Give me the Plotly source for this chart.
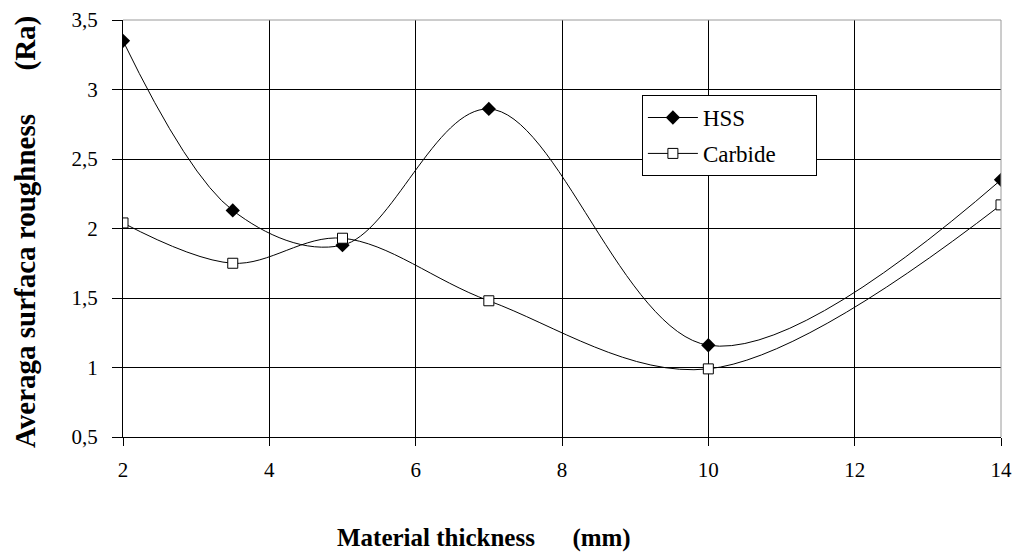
import plotly.graph_objects as go

thickness = [2, 3.5, 5, 7, 10, 14]
hss = [3.35, 2.13, 1.88, 2.86, 1.16, 2.35]
carbide = [2.04, 1.75, 1.93, 1.48, 0.99, 2.17]

x_ticks = [2, 4, 6, 8, 10, 12, 14]
y_ticks = [0.5, 1, 1.5, 2, 2.5, 3, 3.5]
y_tick_text = ["0,5", "1", "1,5", "2", "2,5", "3", "3,5"]

font_family = "Liberation Serif, Times New Roman, serif"
pad = "\u00a0" * 6

fig = go.Figure()
fig.add_trace(go.Scatter(
    x=thickness, y=hss, name="HSS" + pad, mode="lines+markers", legendgroup="a",
    line=dict(color="black", width=1, shape="spline", smoothing=1),
    marker=dict(symbol="diamond", size=11, color="black"),
))
fig.add_trace(go.Scatter(
    x=thickness, y=carbide, name="Carbide" + pad, mode="lines+markers", legendgroup="b",
    line=dict(color="black", width=1, shape="spline", smoothing=1),
    marker=dict(symbol="square", size=10, color="white", line=dict(color="black", width=1)),
))

# plot area spans page x 123..1001, y 20..437
fig.update_layout(
    width=1016, height=556,
    margin=dict(l=123, r=15, t=20, b=119),
    paper_bgcolor="white", plot_bgcolor="white",
    font=dict(family=font_family, color="black", size=21),
    showlegend=True,
    legend=dict(
        x=0.591, y=0.82, xanchor="left", yanchor="top",
        bgcolor="white", bordercolor="black", borderwidth=1,
        font=dict(family=font_family, size=23, color="black"),
        traceorder="grouped", tracegroupgap=3, itemwidth=50,
    ),
    xaxis=dict(
        range=[2, 14], tickvals=x_ticks, ticktext=[str(v) for v in x_ticks],
        showgrid=True, gridcolor="black", gridwidth=1,
        showline=True, linecolor="black", linewidth=1,
        ticks="outside", ticklen=8, tickcolor="black", ticklabelstandoff=6,
        zeroline=False, automargin=False,
    ),
    yaxis=dict(
        range=[0.5, 3.5], tickvals=y_ticks, ticktext=y_tick_text,
        showgrid=True, gridcolor="black", gridwidth=1,
        showline=True, linecolor="black", linewidth=1,
        ticks="outside", ticklen=10, tickcolor="black", ticklabelstandoff=10,
        zeroline=False, automargin=False,
    ),
    shapes=[
        dict(type="line", xref="paper", yref="paper", x0=0, x1=1, y0=1, y1=1,
             line=dict(color="#9a9a9a", width=1), layer="above"),
        dict(type="line", xref="paper", yref="paper", x0=1, x1=1, y0=0, y1=1,
             line=dict(color="#9a9a9a", width=1), layer="above"),
    ],
    annotations=[
        dict(text="<b>Material thickness      (mm)</b>", xref="paper", yref="paper",
             x=(484 - 123) / 878, y=-(538 - 437) / 417, xanchor="center", yanchor="middle",
             showarrow=False, font=dict(family=font_family, size=25, color="black")),
        dict(text="<b>Averaga surfaca roughness      (Ra)</b>", xref="paper", yref="paper",
             x=-(123 - 26) / 878, y=1 - (232 - 20) / 417, xanchor="center", yanchor="middle",
             textangle=-90, showarrow=False,
             font=dict(family=font_family, size=29, color="black")),
    ],
)

fig.write_html(
    "out.html",
    config={"displayModeBar": False},
    post_script="document.body.style.margin='0';document.body.style.overflow='hidden';",
)
